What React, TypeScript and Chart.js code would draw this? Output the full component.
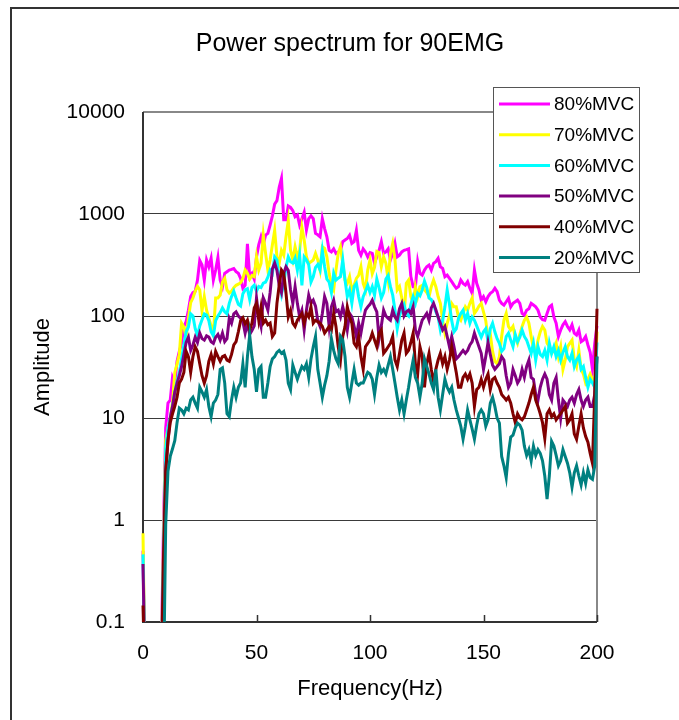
import React, { useEffect, useRef } from 'react';
import { Chart, registerables } from 'chart.js';

Chart.register(...registerables);

const CHART_TITLE = 'Power spectrum for 90EMG';
const X_TITLE = 'Frequency(Hz)';
const Y_TITLE = 'Amplitude';

const FREQ_HZ = [
  0, 1, 2, 3, 4, 5, 6, 7, 8, 9,
  10, 11, 12, 13, 14, 15, 16, 17, 18, 19,
  20, 21, 22, 23, 24, 25, 26, 27, 28, 29,
  30, 31, 32, 33, 34, 35, 36, 37, 38, 39,
  40, 41, 42, 43, 44, 45, 46, 47, 48, 49,
  50, 51, 52, 53, 54, 55, 56, 57, 58, 59,
  60, 61, 62, 63, 64, 65, 66, 67, 68, 69,
  70, 71, 72, 73, 74, 75, 76, 77, 78, 79,
  80, 81, 82, 83, 84, 85, 86, 87, 88, 89,
  90, 91, 92, 93, 94, 95, 96, 97, 98, 99,
  100, 101, 102, 103, 104, 105, 106, 107, 108, 109,
  110, 111, 112, 113, 114, 115, 116, 117, 118, 119,
  120, 121, 122, 123, 124, 125, 126, 127, 128, 129,
  130, 131, 132, 133, 134, 135, 136, 137, 138, 139,
  140, 141, 142, 143, 144, 145, 146, 147, 148, 149,
  150, 151, 152, 153, 154, 155, 156, 157, 158, 159,
  160, 161, 162, 163, 164, 165, 166, 167, 168, 169,
  170, 171, 172, 173, 174, 175, 176, 177, 178, 179,
  180, 181, 182, 183, 184, 185, 186, 187, 188, 189,
  190, 191, 192, 193, 194, 195, 196, 197, 198, 199,
  200,
];

const MVC80 = [
  0.5, 0.02, 0.02, 0.02, 0.02, 0.02, 0.02, 0.02, 0.04, 0.8,
  8, 14, 15, 25, 22, 36, 45, 54, 79, 88,
  114, 155, 170, 175, 225, 350, 316, 225, 354, 304,
  368, 225, 282, 375, 225, 194, 262, 272, 282, 286,
  292, 272, 262, 234, 187, 200, 510, 243, 262, 230,
  380, 500, 598, 500, 620, 645, 780, 960, 1250, 1350,
  1830, 2240, 880, 880, 1200, 1160, 1080, 940, 980, 780,
  900, 1040, 700, 900, 960, 900, 645, 625, 598, 900,
  720, 598, 440, 425, 455, 411, 425, 440, 535, 555,
  575, 620, 515, 535, 690, 440, 395, 455, 425, 380,
  418, 411, 328, 380, 440, 535, 411, 425, 455, 354,
  411, 515, 380, 395, 425, 440, 447, 455, 243, 194,
  194, 341, 262, 252, 282, 304, 316, 282, 328, 341,
  368, 304, 293, 243, 252, 234, 217, 201, 187, 194,
  225, 209, 201, 217, 187, 167, 282, 209, 180, 143,
  155, 138, 155, 167, 173, 187, 173, 143, 133, 128,
  138, 149, 123, 133, 138, 143, 133, 106, 102, 114,
  118, 133, 128, 123, 114, 98, 92, 91, 106, 123,
  128, 98, 85, 63, 73, 82, 88, 79, 73, 82,
  68, 65, 73, 56, 58, 63, 52, 44, 30, 54,
  80,
];

const MVC70 = [
  0.74, 0.02, 0.02, 0.02, 0.02, 0.02, 0.02, 0.02, 0.03, 0.5,
  6, 8, 10, 14, 28, 34, 42, 85, 78, 62,
  95, 135, 150, 175, 195, 180, 112, 155, 114, 95,
  80, 66, 150, 150, 160, 215, 234, 180, 168, 175,
  190, 200, 205, 212, 234, 282, 262, 230, 250, 243,
  380, 282, 328, 620, 411, 282, 354, 500, 690, 380,
  328, 440, 395, 598, 860, 440, 354, 478, 380, 440,
  740, 555, 380, 328, 340, 354, 411, 354, 282, 478,
  460, 380, 262, 200, 180, 282, 411, 478, 328, 225,
  209, 243, 180, 200, 234, 250, 304, 209, 180, 282,
  354, 260, 300, 430, 420, 304, 380, 328, 225, 411,
  515, 354, 180, 194, 150, 100, 209, 225, 155, 133,
  194, 155, 194, 200, 180, 170, 155, 194, 225, 194,
  155, 133, 91, 68, 85, 100, 133, 123, 123, 98,
  91, 106, 123, 114, 133, 150, 106, 114, 125, 133,
  110, 90, 60, 66, 45, 36, 34, 40, 63, 91,
  106, 79, 73, 79, 62, 54, 66, 79, 91, 98,
  85, 63, 48, 43, 58, 70, 79, 73, 54, 50,
  43, 46, 54, 40, 50, 30, 37, 50, 54, 58,
  37, 32, 46, 30, 27, 22, 24, 27, 24, 20,
  70,
];

const MVC60 = [
  0.46, 0.02, 0.02, 0.02, 0.02, 0.02, 0.02, 0.02, 0.03, 0.4,
  5, 8, 10, 13, 18, 23, 28, 38, 52, 70,
  78, 105, 100, 75, 64, 80, 92, 105, 102, 90,
  70, 64, 90, 100, 108, 120, 110, 105, 133, 155,
  175, 150, 130, 125, 165, 180, 185, 145, 190, 200,
  175, 195, 190, 210, 215, 240, 282, 262, 380, 354,
  230, 165, 210, 300, 380, 340, 330, 370, 282, 395,
  200, 380, 354, 320, 215, 243, 300, 320, 282, 440,
  304, 230, 215, 170, 262, 225, 235, 243, 354, 225,
  155, 180, 133, 194, 209, 155, 123, 155, 175, 200,
  170, 194, 160, 230, 190, 150, 170, 230, 250, 194,
  160, 114, 75, 100, 118, 130, 105, 100, 130, 155,
  133, 167, 158, 180, 220, 190, 150, 145, 130, 110,
  98, 73, 90, 123, 180, 130, 90, 70, 75, 95,
  106, 114, 91, 106, 85, 98, 91, 80, 70, 62,
  70, 75, 56, 75, 85, 70, 60, 54, 45, 48,
  63, 68, 58, 50, 66, 56, 62, 73, 63, 58,
  50, 43, 54, 37, 50, 42, 40, 46, 37, 54,
  43, 50, 40, 46, 37, 44, 50, 40, 37, 43,
  32, 37, 40, 30, 32, 25, 20, 24, 22, 20,
  55,
];

const MVC50 = [
  0.37, 0.02, 0.02, 0.02, 0.02, 0.02, 0.02, 0.02, 0.02, 0.3,
  3, 6, 10, 13, 18, 22, 26, 32, 42, 55,
  62, 46, 52, 62, 55, 68, 60, 58, 64, 62,
  56, 54, 62, 66, 58, 68, 56, 60, 95, 85,
  105, 110, 100, 95, 88, 68, 85, 66, 72, 80,
  150, 98, 79, 150, 133, 114, 170, 290, 330, 280,
  200, 170, 262, 304, 280, 180, 133, 194, 133, 98,
  114, 73, 114, 160, 133, 143, 125, 90, 79, 106,
  155, 133, 79, 123, 143, 110, 114, 98, 123, 100,
  73, 106, 98, 79, 63, 85, 68, 91, 114, 123,
  130, 143, 123, 110, 60, 80, 114, 100, 95, 91,
  114, 98, 91, 118, 133, 100, 110, 114, 106, 123,
  73, 63, 76, 91, 98, 106, 91, 120, 133, 115,
  98, 85, 73, 79, 63, 50, 63, 50, 38, 40,
  43, 46, 43, 46, 52, 56, 68, 58, 50, 43,
  30, 40, 55, 42, 33, 30, 32, 34, 40, 37,
  26, 20, 22, 30, 26, 22, 24, 30, 25, 32,
  37, 25, 24, 17, 15, 20, 24, 27, 24, 17,
  15, 22, 25, 15, 10, 15, 14, 13, 15, 16,
  14, 17, 19, 15, 13, 15, 16, 13, 13, 17,
  40,
];

const MVC40 = [
  0.145, 0.02, 0.02, 0.02, 0.02, 0.02, 0.02, 0.02, 0.02, 0.4,
  3, 6, 9, 11, 13, 16, 22, 24, 28, 45,
  40, 28, 40, 50, 45, 34, 26, 22, 26, 36,
  42, 34, 45, 40, 36, 40, 41, 37, 36, 42,
  52, 56, 70, 90, 96, 84, 91, 73, 85, 120,
  133, 91, 123, 85, 91, 82, 85, 63, 68, 133,
  200, 282, 262, 167, 98, 114, 85, 79, 91, 98,
  106, 85, 106, 98, 123, 85, 91, 88, 85, 79,
  68, 73, 79, 73, 106, 79, 50, 37, 63, 79,
  123, 98, 85, 54, 50, 63, 40, 30, 50, 54,
  58, 68, 58, 50, 68, 73, 43, 46, 50, 54,
  63, 37, 32, 43, 58, 68, 43, 46, 55, 68,
  34, 27, 50, 40, 20, 34, 43, 30, 22, 30,
  37, 43, 34, 40, 30, 37, 50, 37, 28, 20,
  20, 25, 27, 24, 27, 22, 13, 19, 20, 24,
  20, 24, 27, 19, 24, 25, 22, 20, 17, 16,
  15, 16, 14, 11, 9, 11, 10, 9.6, 10.3, 12,
  14, 17, 20, 15, 13, 11, 9, 6.3, 11, 12,
  10.3, 11, 9.6, 10.3, 11, 12, 13, 8.9, 9.6, 11,
  7, 6.2, 8.3, 11, 8, 6.6, 5.8, 4.5, 3.6, 17,
  118,
];

const MVC20 = [
  0.02, 0.02, 0.02, 0.02, 0.02, 0.02, 0.02, 0.02, 0.02, 0.02,
  0.9, 3, 4.2, 5, 6, 9, 12.5, 12, 11, 12.5,
  12, 15, 16, 14, 12.5, 20, 18, 16, 19, 13,
  10.3, 14, 15, 17, 30, 31, 22, 11, 10.3, 15,
  20, 16, 20, 22, 34, 20, 40, 65, 40, 30,
  18, 30, 32, 16, 16, 22, 32, 38, 40, 44,
  46, 43, 45, 37, 22, 19, 33, 28, 24, 28,
  32, 30, 34, 25, 38, 50, 63, 30, 22, 16,
  21, 26, 36, 60, 46, 38, 34, 63, 58, 40,
  20, 16, 22, 30, 22, 21, 22, 22, 25, 28,
  27, 24, 17, 25, 33, 28, 30, 27, 33, 40,
  30, 22, 16, 12, 15, 11, 15, 20, 28, 37,
  25, 22, 16, 22, 38, 32, 27, 22, 19, 30,
  16, 12, 17, 24, 20, 18, 20, 15, 12, 10,
  8.3, 6.2, 8.3, 12, 9.6, 7.8, 6.2, 8.5, 11, 12,
  11, 8.3, 9.6, 14, 16, 13, 10, 8.9, 4.2, 3.4,
  2.6, 4.5, 6.5, 6.8, 8, 8.9, 8.5, 7.6, 5.3, 4.3,
  4.9, 3.8, 5.3, 4.3, 4.9, 4.5, 3.8, 2.7, 1.6, 2.7,
  5.9, 5.3, 4.3, 3.4, 3.8, 4.9, 4.2, 3.6, 2.9, 2.1,
  2.9, 3.4, 2.7, 2.2, 2.9, 2.3, 3.1, 2.6, 2.5, 3.4,
  40,
];

const SERIES_LABELS = ['80%MVC', '70%MVC', '60%MVC', '50%MVC', '40%MVC', '20%MVC'];
const SERIES_COLORS = ['#FF00FF', '#FFFF00', '#00FFFF', '#800080', '#800000', '#008080'];

const X_TICKS = [0, 50, 100, 150, 200];
const X_TICK_LABELS = ['0', '50', '100', '150', '200'];
const Y_TICKS = [0.1, 1, 10, 100, 1000, 10000];
const Y_TICK_LABELS = ['0.1', '1', '10', '100', '1000', '10000'];

const FONT = '"Liberation Sans", Arial, Helvetica, sans-serif';

const excelPlugin = {
  id: 'excelLook',
  beforeDraw(chart: any) {
    const ctx = chart.ctx;
    ctx.save();
    ctx.fillStyle = '#ffffff';
    ctx.fillRect(0, 0, chart.width, chart.height);
    ctx.strokeStyle = '#333333';
    ctx.lineWidth = 2;
    ctx.strokeRect(11, 8, 720, 740);
    ctx.restore();
  },
  beforeDatasetsDraw(chart: any) {
    const { ctx, chartArea: a, scales } = chart;
    ctx.save();
    ctx.strokeStyle = '#888888';
    ctx.lineWidth = 2;
    ctx.beginPath();
    ctx.moveTo(a.left, a.top);
    ctx.lineTo(a.right, a.top);
    ctx.lineTo(a.right, a.bottom);
    ctx.stroke();
    ctx.strokeStyle = '#333333';
    ctx.lineWidth = 2;
    ctx.beginPath();
    ctx.moveTo(a.left, a.top);
    ctx.lineTo(a.left, a.bottom);
    ctx.lineTo(a.right, a.bottom);
    ctx.stroke();
    ctx.lineWidth = 1.5;
    ctx.beginPath();
    for (const v of X_TICKS) {
      const px = Math.round(scales.x.getPixelForValue(v)) + 0.5;
      ctx.moveTo(px, a.bottom);
      ctx.lineTo(px, a.bottom - 7);
    }
    ctx.stroke();
    ctx.restore();
  },
  afterDraw(chart: any) {
    const ctx = chart.ctx;
    ctx.save();
    ctx.fillStyle = '#000000';
    ctx.font = `25px ${FONT}`;
    ctx.textAlign = 'center';
    ctx.textBaseline = 'alphabetic';
    ctx.fillText(CHART_TITLE, 350, 51);
    const bx = 493.5, by = 87.5, bw = 146, bh = 185;
    ctx.fillStyle = '#ffffff';
    ctx.fillRect(bx, by, bw, bh);
    ctx.strokeStyle = '#555555';
    ctx.lineWidth = 1;
    ctx.strokeRect(bx, by, bw, bh);
    const ds = chart.data.datasets;
    ctx.font = `19px ${FONT}`;
    ctx.textAlign = 'left';
    ctx.textBaseline = 'middle';
    for (let i = 0; i < ds.length; i++) {
      const cy = 104 + i * 30.7;
      ctx.strokeStyle = ds[i].borderColor;
      ctx.lineWidth = 3;
      ctx.beginPath();
      ctx.moveTo(499, cy);
      ctx.lineTo(550, cy);
      ctx.stroke();
      ctx.fillStyle = '#000000';
      ctx.fillText(ds[i].label, 554, cy + 1);
    }
    ctx.restore();
  },
};

export default function App() {
  const ref = useRef<HTMLCanvasElement>(null);

  useEffect(() => {
    const canvas = ref.current;
    if (!canvas) return;
    const seriesValues = [MVC80, MVC70, MVC60, MVC50, MVC40, MVC20];
    const datasets = seriesValues.map((vals, k) => ({
      label: SERIES_LABELS[k],
      data: FREQ_HZ.map((f, i) => ({ x: f, y: vals[i] })),
      borderColor: SERIES_COLORS[k],
      backgroundColor: SERIES_COLORS[k],
      borderWidth: 3,
      pointRadius: 0,
      pointHoverRadius: 0,
      tension: 0,
      fill: false,
      order: seriesValues.length - 1 - k,
      clip: { left: 2, right: 2, top: 0, bottom: 0 },
    }));

    const chart = new Chart(canvas, {
      type: 'line',
      data: { datasets } as any,
      options: {
        animation: false,
        responsive: false,
        devicePixelRatio: 1,
        events: [],
        layout: { padding: { left: 0, right: 82, top: 112, bottom: 0 } },
        plugins: {
          legend: { display: false },
          title: { display: false },
          tooltip: { enabled: false },
        },
        scales: {
          x: {
            type: 'linear',
            min: 0,
            max: 200,
            afterBuildTicks: (s: any) => {
              s.ticks = X_TICKS.map((v) => ({ value: v }));
            },
            afterFit: (s: any) => {
              s.height = 98;
            },
            ticks: {
              color: '#000000',
              font: { family: FONT, size: 21 },
              padding: 19,
              maxRotation: 0,
              autoSkip: false,
              callback: (_v: any, i: number) => X_TICK_LABELS[i],
            },
            grid: { display: false, drawTicks: false },
            border: { display: false },
            title: {
              display: true,
              text: X_TITLE,
              color: '#000000',
              font: { family: FONT, size: 22 },
              padding: { top: 0, bottom: 18 },
            },
          },
          y: {
            type: 'logarithmic',
            min: 0.1,
            max: 10000,
            afterBuildTicks: (s: any) => {
              s.ticks = Y_TICKS.map((v) => ({ value: v }));
            },
            afterFit: (s: any) => {
              s.width = 143;
            },
            ticks: {
              color: '#000000',
              font: { family: FONT, size: 21 },
              padding: 18,
              autoSkip: false,
              callback: (_v: any, i: number) => Y_TICK_LABELS[i],
            },
            grid: { color: '#3a3a3a', lineWidth: 1, drawTicks: false },
            border: { display: false },
            title: {
              display: true,
              text: Y_TITLE,
              color: '#000000',
              font: { family: FONT, size: 22 },
              padding: { top: 30, bottom: 0 },
            },
          },
        },
      } as any,
      plugins: [excelPlugin],
    });

    return () => {
      chart.destroy();
    };
  }, []);

  return (
    <div
      style={{
        position: 'fixed',
        left: 0,
        top: 0,
        width: 679,
        height: 720,
        background: '#ffffff',
        overflow: 'hidden',
      }}
    >
      <canvas ref={ref} width={679} height={720} style={{ display: 'block', width: 679, height: 720 }} />
    </div>
  );
}
